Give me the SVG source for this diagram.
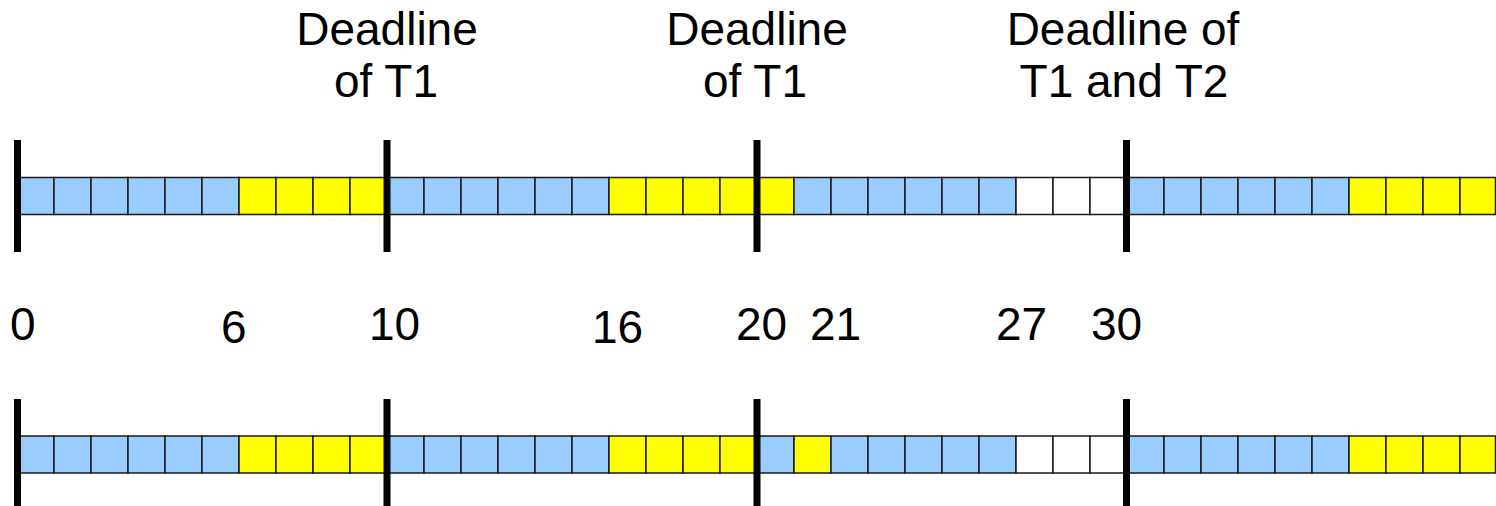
<svg xmlns="http://www.w3.org/2000/svg" width="1496" height="506" viewBox="0 0 1496 506">
<style>
.c{stroke:#1a1a1a;stroke-width:1.5}
.b{fill:#99ccff}
.y{fill:#ffff00}
.w{fill:#ffffff}
.bar{stroke:#000;stroke-width:7}
text{font-family:"Liberation Sans",Arial,sans-serif;font-size:46px;fill:#000}
.m{text-anchor:middle}
</style>
<rect width="1496" height="506" fill="#fff"/>
<g id="headings">
<text class="m" x="387" y="45">Deadline</text>
<text class="m" x="386" y="97">of T1</text>
<text class="m" x="757" y="45">Deadline</text>
<text class="m" x="755" y="97">of T1</text>
<text class="m" x="1123" y="45">Deadline of</text>
<text class="m" x="1124" y="97">T1 and T2</text>
</g>
<g id="row1">
<rect class="c b" x="17" y="177.5" width="37" height="37"/>
<rect class="c b" x="54" y="177.5" width="37" height="37"/>
<rect class="c b" x="91" y="177.5" width="37" height="37"/>
<rect class="c b" x="128" y="177.5" width="37" height="37"/>
<rect class="c b" x="165" y="177.5" width="37" height="37"/>
<rect class="c b" x="202" y="177.5" width="37" height="37"/>
<rect class="c y" x="239" y="177.5" width="37" height="37"/>
<rect class="c y" x="276" y="177.5" width="37" height="37"/>
<rect class="c y" x="313" y="177.5" width="37" height="37"/>
<rect class="c y" x="350" y="177.5" width="37" height="37"/>
<rect class="c b" x="387" y="177.5" width="37" height="37"/>
<rect class="c b" x="424" y="177.5" width="37" height="37"/>
<rect class="c b" x="461" y="177.5" width="37" height="37"/>
<rect class="c b" x="498" y="177.5" width="37" height="37"/>
<rect class="c b" x="535" y="177.5" width="37" height="37"/>
<rect class="c b" x="572" y="177.5" width="37" height="37"/>
<rect class="c y" x="609" y="177.5" width="37" height="37"/>
<rect class="c y" x="646" y="177.5" width="37" height="37"/>
<rect class="c y" x="683" y="177.5" width="37" height="37"/>
<rect class="c y" x="720" y="177.5" width="37" height="37"/>
<rect class="c y" x="757" y="177.5" width="37" height="37"/>
<rect class="c b" x="794" y="177.5" width="37" height="37"/>
<rect class="c b" x="831" y="177.5" width="37" height="37"/>
<rect class="c b" x="868" y="177.5" width="37" height="37"/>
<rect class="c b" x="905" y="177.5" width="37" height="37"/>
<rect class="c b" x="942" y="177.5" width="37" height="37"/>
<rect class="c b" x="979" y="177.5" width="37" height="37"/>
<rect class="c w" x="1016" y="177.5" width="37" height="37"/>
<rect class="c w" x="1053" y="177.5" width="37" height="37"/>
<rect class="c w" x="1090" y="177.5" width="37" height="37"/>
<rect class="c b" x="1127" y="177.5" width="37" height="37"/>
<rect class="c b" x="1164" y="177.5" width="37" height="37"/>
<rect class="c b" x="1201" y="177.5" width="37" height="37"/>
<rect class="c b" x="1238" y="177.5" width="37" height="37"/>
<rect class="c b" x="1275" y="177.5" width="37" height="37"/>
<rect class="c b" x="1312" y="177.5" width="37" height="37"/>
<rect class="c y" x="1349" y="177.5" width="37" height="37"/>
<rect class="c y" x="1386" y="177.5" width="37" height="37"/>
<rect class="c y" x="1423" y="177.5" width="37" height="37"/>
<rect class="c y" x="1460" y="177.5" width="35.5" height="37"/>
</g>
<g id="row2">
<rect class="c b" x="17" y="436" width="37" height="37"/>
<rect class="c b" x="54" y="436" width="37" height="37"/>
<rect class="c b" x="91" y="436" width="37" height="37"/>
<rect class="c b" x="128" y="436" width="37" height="37"/>
<rect class="c b" x="165" y="436" width="37" height="37"/>
<rect class="c b" x="202" y="436" width="37" height="37"/>
<rect class="c y" x="239" y="436" width="37" height="37"/>
<rect class="c y" x="276" y="436" width="37" height="37"/>
<rect class="c y" x="313" y="436" width="37" height="37"/>
<rect class="c y" x="350" y="436" width="37" height="37"/>
<rect class="c b" x="387" y="436" width="37" height="37"/>
<rect class="c b" x="424" y="436" width="37" height="37"/>
<rect class="c b" x="461" y="436" width="37" height="37"/>
<rect class="c b" x="498" y="436" width="37" height="37"/>
<rect class="c b" x="535" y="436" width="37" height="37"/>
<rect class="c b" x="572" y="436" width="37" height="37"/>
<rect class="c y" x="609" y="436" width="37" height="37"/>
<rect class="c y" x="646" y="436" width="37" height="37"/>
<rect class="c y" x="683" y="436" width="37" height="37"/>
<rect class="c y" x="720" y="436" width="37" height="37"/>
<rect class="c b" x="757" y="436" width="37" height="37"/>
<rect class="c y" x="794" y="436" width="37" height="37"/>
<rect class="c b" x="831" y="436" width="37" height="37"/>
<rect class="c b" x="868" y="436" width="37" height="37"/>
<rect class="c b" x="905" y="436" width="37" height="37"/>
<rect class="c b" x="942" y="436" width="37" height="37"/>
<rect class="c b" x="979" y="436" width="37" height="37"/>
<rect class="c w" x="1016" y="436" width="37" height="37"/>
<rect class="c w" x="1053" y="436" width="37" height="37"/>
<rect class="c w" x="1090" y="436" width="37" height="37"/>
<rect class="c b" x="1127" y="436" width="37" height="37"/>
<rect class="c b" x="1164" y="436" width="37" height="37"/>
<rect class="c b" x="1201" y="436" width="37" height="37"/>
<rect class="c b" x="1238" y="436" width="37" height="37"/>
<rect class="c b" x="1275" y="436" width="37" height="37"/>
<rect class="c b" x="1312" y="436" width="37" height="37"/>
<rect class="c y" x="1349" y="436" width="37" height="37"/>
<rect class="c y" x="1386" y="436" width="37" height="37"/>
<rect class="c y" x="1423" y="436" width="37" height="37"/>
<rect class="c y" x="1460" y="436" width="35.5" height="37"/>
</g>
<g id="bars">
<line class="bar" x1="17.5" y1="140" x2="17.5" y2="252"/>
<line class="bar" x1="387" y1="140" x2="387" y2="252"/>
<line class="bar" x1="757" y1="140" x2="757" y2="252"/>
<line class="bar" x1="1126.5" y1="140" x2="1126.5" y2="252"/>
<line class="bar" x1="17.5" y1="399" x2="17.5" y2="506"/>
<line class="bar" x1="387" y1="399" x2="387" y2="506"/>
<line class="bar" x1="757" y1="399" x2="757" y2="506"/>
<line class="bar" x1="1126.5" y1="399" x2="1126.5" y2="506"/>
</g>
<g id="labels">
<text x="10" y="340">0</text>
<text x="221" y="343">6</text>
<text x="369" y="340">10</text>
<text x="592" y="343">16</text>
<text x="736" y="340">20</text>
<text x="810" y="340">21</text>
<text x="996" y="340">27</text>
<text x="1091" y="340">30</text>
</g>
</svg>
